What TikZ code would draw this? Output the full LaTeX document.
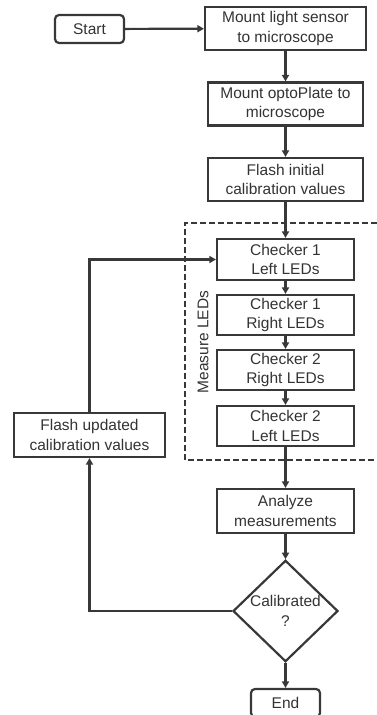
\documentclass[tikz,border=0pt]{standalone}
\usepackage{fontspec}
\setmainfont{Liberation Sans}
\usetikzlibrary{arrows.meta,shapes.geometric}
\definecolor{linegray}{HTML}{383838}
\definecolor{textgray}{HTML}{333333}
\begin{document}
\begin{tikzpicture}[x=1pt,y=-1pt,
        every node/.style={font=\fontsize{15.5}{19.5}\selectfont, text=textgray, align=center},
        stepbox/.style={draw=linegray, line width=2.2pt, rectangle, minimum height=43pt, inner sep=0pt},
        termbox/.style={stepbox, rounded corners=4pt, minimum height=28pt},
        testbox/.style={draw=linegray, line width=2.2pt, diamond, minimum width=105pt, minimum height=86pt, inner sep=0pt},
        flow/.style={draw=linegray, line width=2.2pt, -{Triangle[length=6.5pt,width=7pt]}},
        group/.style={draw=linegray, line width=2pt, dash pattern=on 6pt off 3pt}]
        \useasboundingbox (0,0) rectangle (377,715);
        \node [termbox, minimum width=69pt] (start) at (89.5,29) {Start};
        \node [stepbox, minimum width=161pt] (sensor) at (285.5,28.5) {Mount light sensor\\to microscope};
        \node [stepbox, minimum width=155pt] (plate) at (285.5,104) {Mount optoPlate to\\microscope};
        \node [stepbox, minimum width=155pt] (initial) at (285.5,179.5) {Flash initial\\calibration values};
        \draw [group] (377,223) -- (185,223) -- (185,460) -- (377,460);
        \node [rotate=90] (measure) at (203,342) {Measure LEDs};
        \node [stepbox, minimum width=137pt, minimum height=41pt] (c1left) at (285.5,259.5) {Checker 1\\Left LEDs};
        \node [stepbox, minimum width=137pt, minimum height=40pt] (c1right) at (285.5,315) {Checker 1\\Right LEDs};
        \node [stepbox, minimum width=137pt, minimum height=40pt] (c2right) at (285.5,370) {Checker 2\\Right LEDs};
        \node [stepbox, minimum width=137pt, minimum height=40pt] (c2left) at (285.5,426) {Checker 2\\Left LEDs};
        \node [stepbox, minimum width=151pt, minimum height=44pt] (updated) at (89.5,435) {Flash updated\\calibration values};
        \node [stepbox, minimum width=137pt, minimum height=44pt] (analyze) at (285.5,511) {Analyze\\measurements};
        \node [testbox] (calib) at (285.5,611) {Calibrated\\?};
        \node [termbox, minimum width=69pt] (finish) at (285.5,703) {End};
        \draw [flow] (start) -- (sensor);
        \draw [flow] (sensor) -- (plate);
        \draw [flow] (plate) -- (initial);
        \draw [flow] (initial) -- (c1left);
        \draw [flow] (c1left) -- (c1right);
        \draw [flow] (c1right) -- (c2right);
        \draw [flow] (c2right) -- (c2left);
        \draw [flow] (c2left) -- (analyze);
        \draw [flow] (analyze) -- (calib);
        \draw [flow] (calib) -- (finish);
        \draw [flow] (calib.west) -| (updated.south);
        \draw [flow] (updated.north) |- (c1left.west);
        \end{tikzpicture}
\end{document}
